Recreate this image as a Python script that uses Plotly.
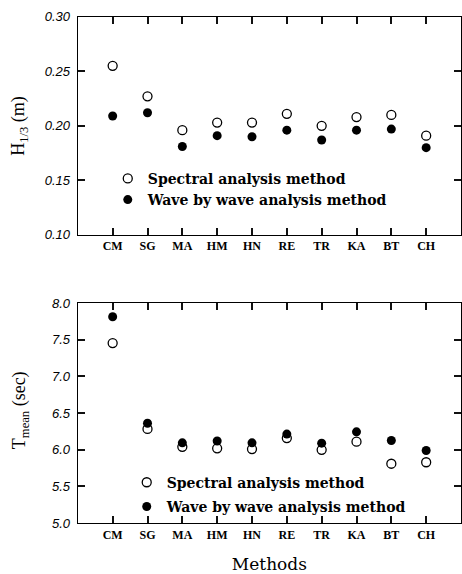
import plotly.graph_objects as go

W, H = 462, 574

methods = ["CM", "SG", "MA", "HM", "HN", "RE", "TR", "KA", "BT", "CH"]

h13_spectral = [0.255, 0.227, 0.196, 0.203, 0.203, 0.211, 0.200, 0.208, 0.210, 0.191]
h13_wave = [0.209, 0.212, 0.181, 0.191, 0.190, 0.196, 0.187, 0.196, 0.197, 0.180]

tmean_spectral = [7.455, 6.285, 6.04, 6.02, 6.01, 6.16, 6.00, 6.11, 5.81, 5.83]
tmean_wave = [7.814, 6.361, 6.095, 6.12, 6.095, 6.214, 6.09, 6.245, 6.126, 5.99]

h_ticks = [0.10, 0.15, 0.20, 0.25, 0.30]
h_ticktext = ["0.10", "0.15", "0.20", "0.25", "0.30"]
t_ticks = [5.0, 5.5, 6.0, 6.5, 7.0, 7.5, 8.0]
t_ticktext = ["5.0", "5.5", "6.0", "6.5", "7.0", "7.5", "8.0"]

name_spectral = "Spectral analysis method"
name_wave = "Wave by wave analysis method"

xidx = list(range(len(methods)))


def px_x(p):
    return p / W


def px_y(p):
    return 1 - p / H


fig = go.Figure()

open_marker = dict(symbol="circle-open", size=9, color="black", line=dict(width=1.3, color="black"))
fill_marker = dict(symbol="circle", size=9, color="black", line=dict(width=0))

fig.add_trace(go.Scatter(x=xidx, y=h13_spectral, mode="markers", marker=open_marker,
                         name=name_spectral, xaxis="x", yaxis="y", legend="legend", legendgroup="a"))
fig.add_trace(go.Scatter(x=xidx, y=h13_wave, mode="markers", marker=fill_marker,
                         name=name_wave, xaxis="x", yaxis="y", legend="legend", legendgroup="b"))
fig.add_trace(go.Scatter(x=xidx, y=tmean_spectral, mode="markers", marker=open_marker,
                         name=name_spectral, xaxis="x2", yaxis="y2", legend="legend2", legendgroup="c"))
fig.add_trace(go.Scatter(x=xidx, y=tmean_wave, mode="markers", marker=fill_marker,
                         name=name_wave, xaxis="x2", yaxis="y2", legend="legend2", legendgroup="d"))

xdom = [px_x(78), 1.0]
xrange_ = [-1, 10.0]

cat_font = dict(family="Liberation Serif", size=12, color="black", weight="bold")
ytick_font = dict(family="Liberation Sans", size=13, color="black", style="italic")

common_x = dict(
    domain=xdom, range=xrange_, tickmode="array", tickvals=xidx, ticktext=methods,
    ticks="inside", ticklen=7, tickwidth=2, tickcolor="#111111",
    showline=True, linecolor="black", linewidth=1.4, mirror="ticks",
    showgrid=False, zeroline=False, tickfont=cat_font,
)
common_y = dict(
    ticks="inside", ticklen=7, tickwidth=2, tickcolor="#111111",
    showline=True, linecolor="black", linewidth=1.4, mirror="ticks",
    showgrid=False, zeroline=False, tickfont=ytick_font, ticklabelstandoff=4,
)

legend_font = dict(family="DejaVu Serif", size=14, color="black", weight="bold")

fig.update_layout(
    width=W, height=H,
    margin=dict(l=0, r=0, t=0, b=0),
    paper_bgcolor="white", plot_bgcolor="white",
    xaxis=dict(common_x, anchor="y"),
    yaxis=dict(common_y, domain=[px_y(234), px_y(10)], range=[0.10, 0.30],
               tickmode="array", tickvals=h_ticks, ticktext=h_ticktext, anchor="x"),
    xaxis2=dict(common_x, anchor="y2",
                title=dict(text="Methods", font=dict(family="DejaVu Serif", size=17, color="black"),
                           standoff=18)),
    yaxis2=dict(common_y, domain=[px_y(530), px_y(304)], range=[5.0, 8.0],
                tickmode="array", tickvals=t_ticks, ticktext=t_ticktext, anchor="x2"),
    legend=dict(x=px_x(108), y=px_y(160), xanchor="left", yanchor="top",
                font=legend_font, bgcolor="rgba(0,0,0,0)", borderwidth=0,
                traceorder="grouped", tracegroupgap=0, itemwidth=30),
    legend2=dict(x=px_x(127), y=px_y(472), xanchor="left", yanchor="top",
                 font=legend_font, bgcolor="rgba(0,0,0,0)", borderwidth=0,
                 traceorder="grouped", tracegroupgap=3, itemwidth=30),
    showlegend=True,
)

title_font = dict(family="Liberation Serif", size=18, color="black")
fig.add_annotation(text="H<sub>1/3</sub> (m)", x=px_x(20), y=px_y(122), xref="paper", yref="paper",
                   textangle=-90, showarrow=False, font=title_font, xanchor="center", yanchor="middle")
fig.add_annotation(text="T<sub>mean</sub> (sec)", x=px_x(20), y=px_y(414), xref="paper", yref="paper",
                   textangle=-90, showarrow=False, font=title_font, xanchor="center", yanchor="middle")

fig.write_html("out.html")
